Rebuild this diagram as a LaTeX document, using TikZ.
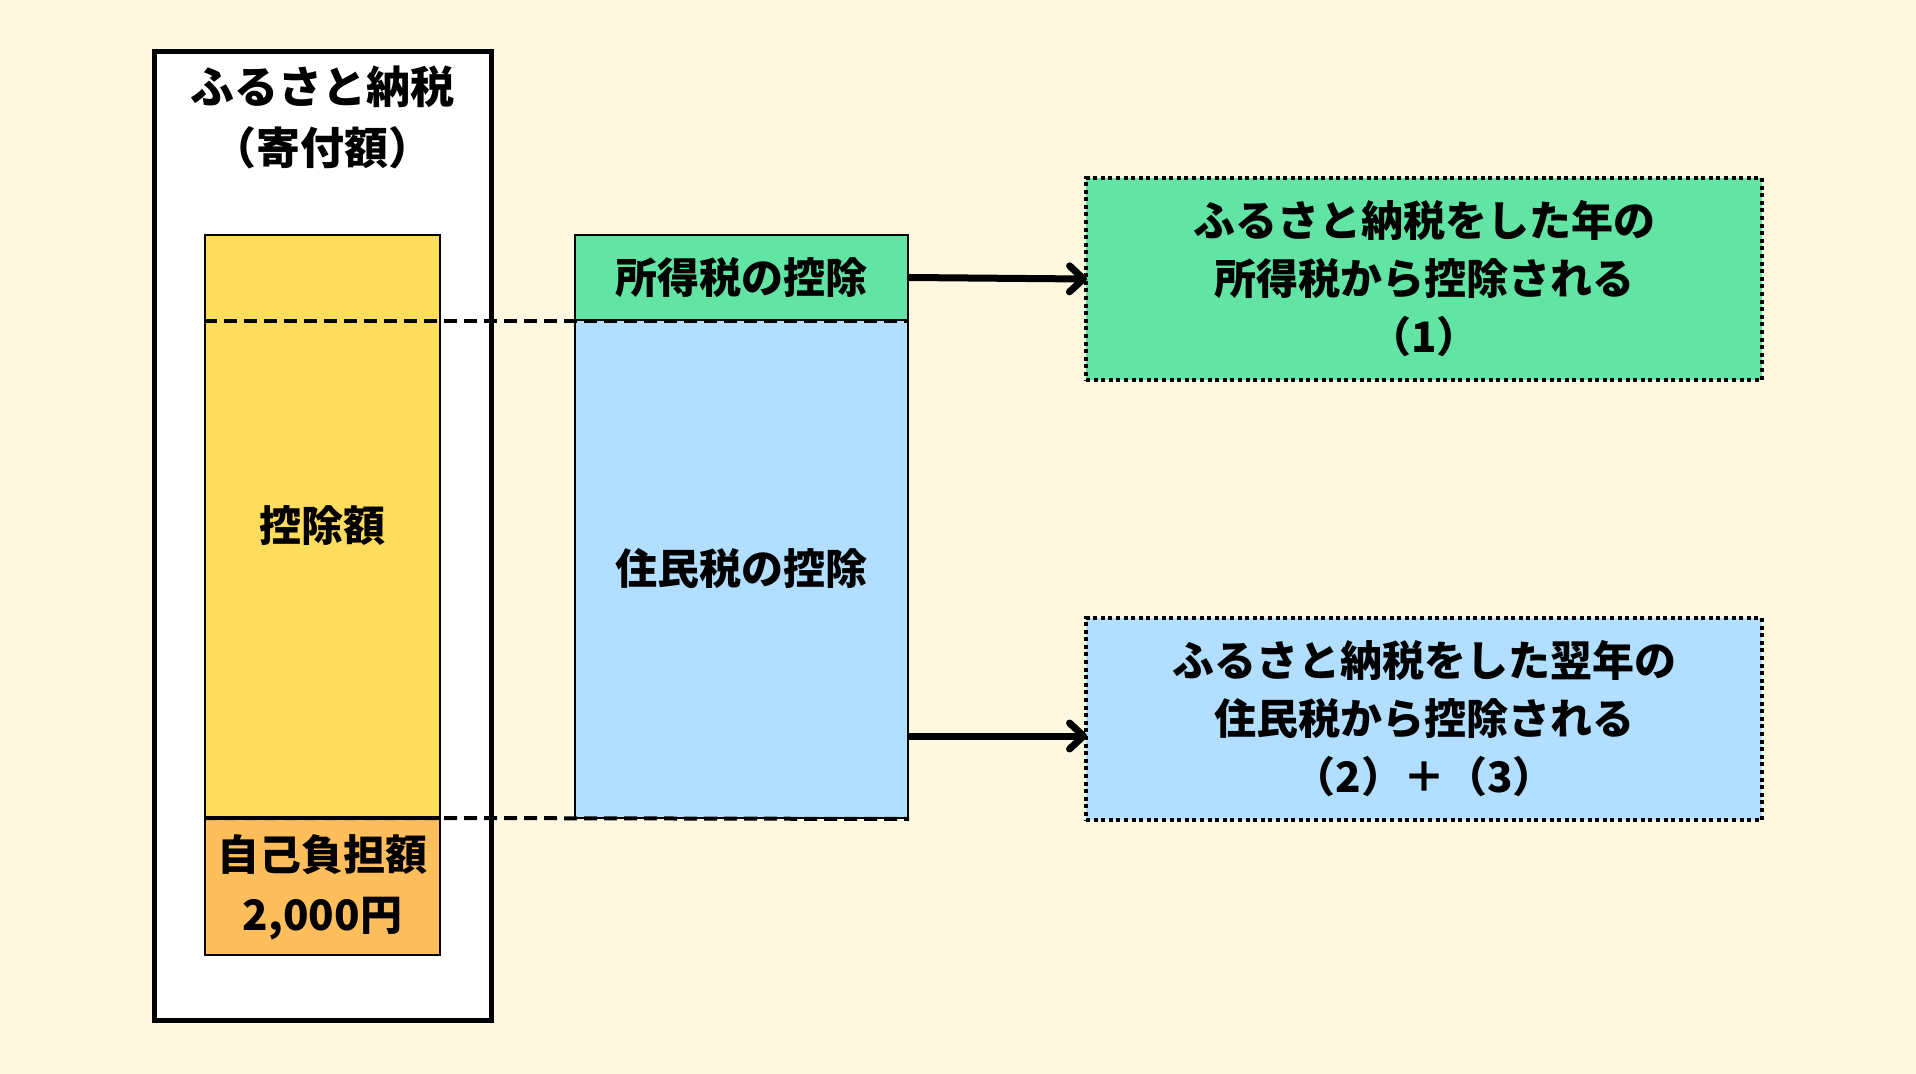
\documentclass[tikz,border=0pt]{standalone}
\usepackage{fontspec}
\setmainfont{Noto Sans CJK JP}
\usetikzlibrary{arrows.meta}
\definecolor{bgcream}{RGB}{255,248,225}
\definecolor{kojoyellow}{RGB}{255,221,92}
\definecolor{jikoorange}{RGB}{255,190,92}
\definecolor{shotokugreen}{RGB}{98,229,164}
\definecolor{juminblue}{RGB}{178,223,255}
\begin{document}
\begin{tikzpicture}[x=0.5pt,y=-0.5pt]
	\tikzstyle{every node} = [font=\bfseries\fontsize{21}{29}\selectfont, align=center, inner sep=0pt];
	\tikzstyle{bar} = [draw=black, line width=1pt];
	\tikzstyle{result} = [draw=black, line width=2pt, dash pattern=on 2pt off 1.8pt, minimum width=338pt, minimum height=101pt];
	\tikzstyle{dashline} = [black, line width=2pt, dash pattern=on 6.5pt off 3.5pt];
	\tikzstyle{arrow} = [black, line width=3.5pt, shorten >=-1.5pt, -{Straight Barb[length=7pt,width=13pt,round]}];
	% background
	\fill[bgcream] (0,0) rectangle (1916,1074);
	\useasboundingbox (0,0) rectangle (1916,1074);
	% donation (left column)
	\node[draw=black, line width=2.5pt, fill=white, minimum width=168.5pt, minimum height=484pt] (kifu) at (322.5,536) {};
	\node[font=\bfseries\fontsize{22}{30.5}\selectfont] (title) at (322.5,117) {ふるさと納税\\（寄付額）};
	\node[bar, fill=kojoyellow, minimum width=117.5pt, minimum height=291pt] (kojo) at (322.5,526) {控除額};
	\node[bar, fill=jikoorange, minimum width=117.5pt, minimum height=68pt, font=\bfseries\fontsize{21}{30}\selectfont] (jiko) at (322.5,887) {自己負担額\\2,000円};
	% breakdown (middle column)
	\node[bar, fill=juminblue, minimum width=166.5pt, minimum height=249pt] (jumin) at (741.5,569) {住民税の控除};
	\node[bar, fill=shotokugreen, minimum width=166.5pt, minimum height=42.5pt] (shotoku) at (741.5,277.5) {所得税の控除};
	\draw[dashline] (kojo.west |- shotoku.south) -- (shotoku.south east);
	\draw[dashline] (jiko.north west) -- (jiko.north east) -- (jumin.south east);
	% results
	\node[result, fill=shotokugreen] (res1) at (1424,279) {ふるさと納税をした年の\\所得税から控除される\\（1）};
	\node[result, fill=juminblue] (res2) at (1424,719) {ふるさと納税をした翌年の\\住民税から控除される\\（2）＋（3）};
	\draw[arrow] (shotoku.east) -- (res1.west);
	\draw[arrow] (jumin.east |- 0,736) -- (res2.west |- 0,736);
\end{tikzpicture}
\end{document}
